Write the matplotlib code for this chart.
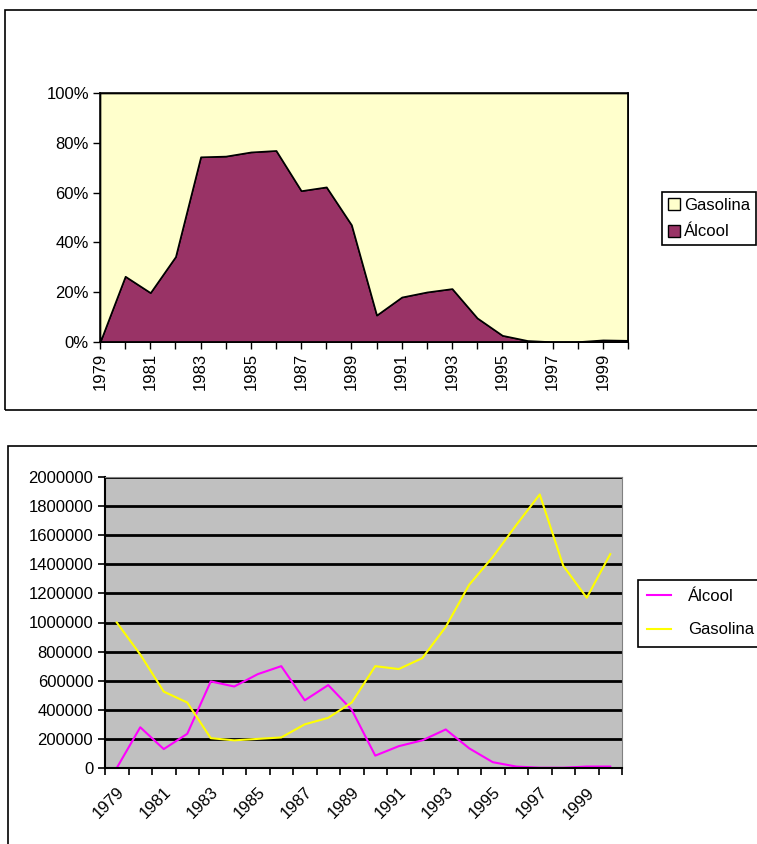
import matplotlib
matplotlib.use("Agg")
import matplotlib.pyplot as plt
from matplotlib.patches import Rectangle, Patch
from matplotlib.lines import Line2D
from matplotlib.ticker import FuncFormatter
import numpy as np

plt.rcParams["font.family"] = ["Liberation Sans", "DejaVu Sans"]
plt.rcParams["font.size"] = 12

years = list(range(1979, 2001))
alcool = [0, 280000, 130000, 235000, 595000, 560000, 645000, 700000, 465000, 570000,
          400000, 85000, 150000, 190000, 265000, 135000, 40000, 10000, 2000, 2000,
          10000, 10000]
gasolina = [1000000, 780000, 525000, 450000, 205000, 190000, 200000, 210000, 300000, 345000,
            450000, 700000, 680000, 755000, 970000, 1260000, 1450000, 1670000, 1880000,
            1390000, 1170000, 1470000]

PURPLE = "#993366"
CREAM = "#FFFFCC"
MAGENTA = "#FF00FF"
YELLOW = "#FFFF00"
GRAY_BG = "#C0C0C0"

W, H = 757, 844
fig = plt.figure(figsize=(W / 100, H / 100), dpi=100)

def box(x0, y0, x1, y1):
    # pixel coords (top-left origin) -> figure fraction
    return [x0 / W, 1 - y1 / H, (x1 - x0) / W, (y1 - y0) / H]

# outer frames
fig.patches.append(Rectangle((5 / W, 1 - 410 / H), 800 / W, 400 / H, transform=fig.transFigure,
                             fill=False, ec="black", lw=1.2))
fig.patches.append(Rectangle((8 / W, -0.05), 800 / W, (844 - 446) / H + 0.05, transform=fig.transFigure,
                             fill=False, ec="black", lw=1.2))

# ---- Top: 100% stacked area ----
a = np.array(alcool, dtype=float)
g = np.array(gasolina, dtype=float)
tot = a + g
a_pct = 100 * a / tot
g_pct = 100 * g / tot
x = np.arange(len(years))

ax1 = fig.add_axes(box(100, 93, 628, 342))
ax1.set_facecolor(CREAM)
ax1.stackplot(x, a_pct, g_pct, colors=[PURPLE, CREAM], edgecolor="black", linewidth=1.2)
ax1.set_xlim(0, len(years) - 1)
ax1.set_ylim(0, 100)
ax1.set_yticks(range(0, 101, 20))
ax1.yaxis.set_major_formatter(FuncFormatter(lambda v, p: f"{v:.0f}%"))
ax1.set_xticks(x)
ax1.set_xticklabels([str(y) if i % 2 == 0 else "" for i, y in enumerate(years)], rotation=90)
ax1.tick_params(direction="out", length=5, width=1, color="black", pad=3)
for s in ax1.spines.values():
    s.set_color("black")
    s.set_linewidth(1.2)

leg1 = fig.legend([Patch(fc=CREAM, ec="black"), Patch(fc=PURPLE, ec="black")],
                  ["Gasolina", "Álcool"], loc="upper left",
                  bbox_to_anchor=(662 / W, 1 - 192 / H), borderaxespad=0,
                  fancybox=False, edgecolor="black", framealpha=1,
                  handlelength=0.75, handleheight=0.75, handletextpad=0.2,
                  borderpad=0.35, labelspacing=0.7)
leg1.get_frame().set_linewidth(1.2)

# ---- Bottom: lines ----
ax2 = fig.add_axes(box(105, 477, 622, 768))
ax2.set_facecolor(GRAY_BG)
ax2.plot(x, alcool, color=MAGENTA, lw=1.5)
ax2.plot(x, gasolina, color=YELLOW, lw=1.5)
ax2.set_xlim(-0.5, len(years) - 0.5)
ax2.set_ylim(0, 2000000)
ax2.set_yticks(range(0, 2000001, 200000))
ax2.yaxis.set_major_formatter(FuncFormatter(lambda v, p: f"{v:.0f}"))
ax2.yaxis.grid(True, color="black", lw=2)
ax2.set_axisbelow(True)
ax2.set_xticks(np.arange(len(years) + 1) - 0.5)
ax2.set_xticklabels([])
ax2.set_xticks(x, minor=True)
ax2.set_xticklabels([str(y) if i % 2 == 0 else "" for i, y in enumerate(years)], minor=True,
                    rotation=45, ha="right", rotation_mode="anchor")
ax2.tick_params(axis="x", which="minor", length=0, pad=12)
ax2.tick_params(axis="both", which="major", direction="out", length=5, width=1.2, color="black")
for side in ("top", "right"):
    ax2.spines[side].set_color("#808080")
for side in ("left", "bottom"):
    ax2.spines[side].set_color("black")
    ax2.spines[side].set_linewidth(1.5)

leg2 = fig.legend([Line2D([], [], color=MAGENTA, lw=1.5), Line2D([], [], color=YELLOW, lw=1.5)],
                  ["Álcool", "Gasolina"], loc="upper left",
                  bbox_to_anchor=(638 / W, 1 - 580 / H), borderaxespad=0,
                  fancybox=False, edgecolor="black", framealpha=1,
                  handlelength=1.45, handletextpad=1.0, borderpad=0.55, labelspacing=1.1)
leg2.get_frame().set_linewidth(1.2)

fig.savefig("out.png", dpi=100, facecolor="white")
